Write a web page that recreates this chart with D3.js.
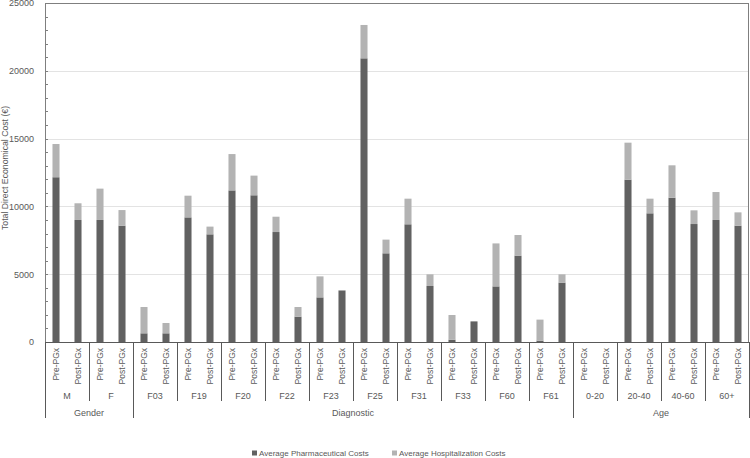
<!DOCTYPE html>
<html lang="en">
<head>
    <meta charset="utf-8">
    <title>Direct cost</title>
    <style>
        body { margin: 0; background: #fff; }
        svg text { font-family: "Liberation Sans", Arial, sans-serif; fill: #595959; }
    </style>
    <script src="https://cdn.jsdelivr.net/npm/d3@7"></script>
</head>
<body>
<div id="chart"></div>
<script>
    // data
    var groups = ["Gender", "Diagnostic", "Age"];
    var groupSizes = [2, 10, 4];
    var subgroups = ["M", "F", "F03", "F19", "F20", "F22", "F23", "F25", "F31", "F33", "F60", "F61", "0-20", "20-40", "40-60", "60+"];
    var phases = ["Pre-PGx", "Post-PGx"];
    var pharma = [12150, 9000, 9000, 8580, 640, 640, 9190, 7940, 11180, 10820, 8110, 1870,
                  3290, 3800, 20920, 6540, 8680, 4130, 170, 1520, 4100, 6370, 100, 4380,
                  0, 0, 11970, 9490, 10640, 8700, 9000, 8580];
    var hosp = [2450, 1230, 2310, 1150, 1940, 760, 1600, 570, 2680, 1450, 1130, 710,
                1550, 10, 2460, 1010, 1890, 860, 1820, 0, 3170, 1520, 1550, 610,
                0, 0, 2730, 1080, 2390, 1010, 2060, 980];
    var yTicks = [0, 5000, 10000, 15000, 20000, 25000];
    var seriesNames = ["Average Pharmaceutical Costs", "Average Hospitalization Costs"];
    var colors = ["#616161", "#b3b3b3"];

    function draw() {
        var W = 750, H = 458;
        var pLeft = 45, pRight = 749, pTop = 3, pBottom = 342;

        var svg = d3.select("#chart").append("svg")
            .attr("width", W).attr("height", H);

        var keys = d3.range(subgroups.length * phases.length);

        var x = d3.scaleBand().domain(keys).range([pLeft, pRight])
            .paddingInner(0.68).paddingOuter(0.34);
        var y = d3.scaleLinear().domain([0, 25000]).range([pBottom, pTop]);
        var step = x.step();

        // grid
        svg.append("g").selectAll("line").data(yTicks.slice(1, -1)).enter().append("line")
            .attr("x1", pLeft).attr("x2", pRight)
            .attr("y1", function (d) { return Math.round(y(d)) + 0.5; })
            .attr("y2", function (d) { return Math.round(y(d)) + 0.5; })
            .attr("stroke", "#e3e3e3").attr("stroke-width", 1);

        // minor ticks inside
        svg.append("g").selectAll("line").data(d3.range(1000, 25000, 1000)).enter().append("line")
            .attr("x1", pLeft).attr("x2", pLeft + 3)
            .attr("y1", function (d) { return Math.round(y(d)) + 0.5; })
            .attr("y2", function (d) { return Math.round(y(d)) + 0.5; })
            .attr("stroke", "#7f7f7f");

        // stacked bars
        var stackData = keys.map(function (k) { return { k: k, a: pharma[k], b: hosp[k] }; });
        var stack = d3.stack().keys(["a", "b"])(stackData);
        svg.append("g").selectAll("g").data(stack).enter().append("g")
            .attr("fill", function (d, i) { return colors[i]; })
            .selectAll("rect").data(function (d) { return d; }).enter().append("rect")
            .attr("x", function (d) { return x(d.data.k); })
            .attr("width", x.bandwidth())
            .attr("y", function (d) { return y(d[1]); })
            .attr("height", function (d) { return y(d[0]) - y(d[1]); });

        // frame
        svg.append("rect")
            .attr("x", pLeft + 0.5).attr("y", pTop + 0.5)
            .attr("width", pRight - pLeft - 1).attr("height", pBottom - pTop)
            .attr("fill", "none").attr("stroke", "#7f7f7f");

        // y axis
        var yAxis = svg.append("g").attr("transform", "translate(" + (pLeft - 8) + ",0)")
            .call(d3.axisLeft(y).tickValues(yTicks).tickSize(0).tickFormat(d3.format("d")));
        yAxis.select(".domain").remove();
        yAxis.selectAll("text").style("font-size", "9px").attr("fill", "#595959");

        svg.append("text")
            .attr("transform", "translate(8,168) rotate(-90)")
            .attr("text-anchor", "middle")
            .style("font-size", "8.7px")
            .text("Total Direct Economical Cost (€)");

        // x axis: multi-level category labels
        var ax = svg.append("g");
        ax.append("line").attr("x1", pLeft).attr("x2", pRight)
            .attr("y1", pBottom + 0.5).attr("y2", pBottom + 0.5).attr("stroke", "#595959");

        ax.selectAll("text.phase").data(keys).enter().append("text")
            .attr("class", "phase")
            .attr("transform", function (k) {
                return "translate(" + (x(k) + x.bandwidth() / 2 + 3) + "," + (pBottom + 6) + ") rotate(-90)";
            })
            .attr("text-anchor", "end")
            .style("font-size", "8.5px")
            .text(function (k) { return phases[k % 2]; });

        var subEdge = function (i) { return pLeft + i * step * 2; };

        ax.selectAll("text.sub").data(subgroups).enter().append("text")
            .attr("class", "sub")
            .attr("x", function (s, i) { return subEdge(i) + step; })
            .attr("y", pBottom + 57)
            .attr("text-anchor", "middle")
            .style("font-size", "9px")
            .text(function (s) { return s; });

        var groupEdges = [0];
        groupSizes.forEach(function (n, i) { groupEdges.push(groupEdges[i] + n); });

        d3.range(0, subgroups.length + 1).forEach(function (i) {
            var isGroup = groupEdges.indexOf(i) >= 0;
            ax.append("line")
                .attr("x1", Math.round(subEdge(i)) + 0.5).attr("x2", Math.round(subEdge(i)) + 0.5)
                .attr("y1", pBottom).attr("y2", isGroup ? 418 : 401)
                .attr("stroke", "#595959");
        });

        ax.selectAll("text.grp").data(groups).enter().append("text")
            .attr("class", "grp")
            .attr("x", function (g, i) { return (subEdge(groupEdges[i]) + subEdge(groupEdges[i + 1])) / 2; })
            .attr("y", pBottom + 74)
            .attr("text-anchor", "middle")
            .style("font-size", "9px")
            .text(function (g) { return g; });

        // legend
        var lg = svg.append("g").attr("transform", "translate(0,453)");
        var legX = [252, 392];
        seriesNames.forEach(function (n, i) {
            lg.append("rect").attr("x", legX[i]).attr("y", -2.5).attr("width", 5).attr("height", 5)
                .attr("fill", colors[i]);
            lg.append("text").attr("x", legX[i] + 7).attr("y", 3)
                .style("font-size", "8px").text(n);
        });
    }
    draw();
</script>
</body>
</html>
